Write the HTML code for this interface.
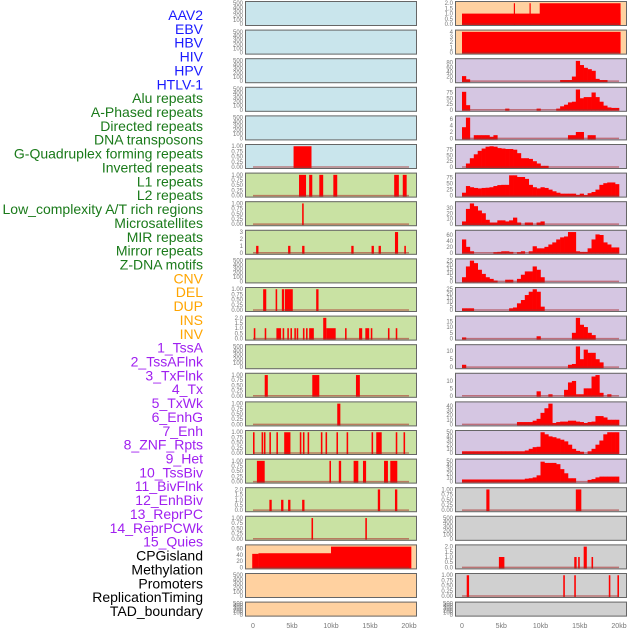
<!DOCTYPE html>
<html><head><meta charset="utf-8">
<style>
html,body{margin:0;padding:0;background:#fff;}
svg{display:block;font-family:"Liberation Sans",sans-serif;}
</style></head>
<body>
<svg id="chart" width="630" height="630" viewBox="0 0 630 630"></svg>
<script>
const labels = ["AAV2","EBV","HBV","HIV","HPV","HTLV-1","Alu repeats","A-Phased repeats","Directed repeats","DNA transposons","G-Quadruplex forming repeats","Inverted repeats","L1 repeats","L2 repeats","Low_complexity A/T rich regions","Microsatellites","MIR repeats","Mirror repeats","Z-DNA motifs","CNV","DEL","DUP","INS","INV","1_TssA","2_TssAFlnk","3_TxFlnk","4_Tx","5_TxWk","6_EnhG","7_Enh","8_ZNF_Rpts","9_Het","10_TssBiv","11_BivFlnk","12_EnhBiv","13_ReprPC","14_ReprPCWk","15_Quies","CPGisland","Methylation","Promoters","ReplicationTiming","TAD_boundary"];
const xTickLabels = ["0","5kb","10kb","15kb","20kb"];
const xTickValues = [0,5,10,15,20];

const L6 = [[5.2,7.5,1]];
const L7 = [[5.9,6.8,1],[7.2,7.6,1],[8.5,9.0,1],[10.3,10.8,1],[18.1,18.7,1],[19.2,19.7,1]];
const L8 = [[6.3,6.5,1]];
const L9 = [[0.4,0.7,1],[4.5,4.8,1],[6.3,6.6,1],[12.6,12.9,1],[15.2,15.5,1],[16.1,16.4,1],[18.2,18.6,3],[19.4,19.6,1]];
const L11 = [[1.3,1.7,1],[2.9,3.1,1],[3.7,4.0,1],[4.1,5.1,1],[8.1,8.4,1]];
const L12 = [[0.1,0.3,1],[1.5,1.7,1],[3.0,3.6,1],[3.8,4.0,1],[4.4,4.6,1],[4.8,5.0,1],[5.3,5.5,1],[5.6,5.8,1],[6.4,6.6,1],[6.8,7.0,1],[7.2,7.8,1],[9.0,9.4,2],[9.4,10.6,1],[11.8,12.0,1],[13.6,14.0,1],[14.4,14.9,1],[15.1,15.3,1],[17.3,17.5,1],[18.3,18.5,1]];
const L14 = [[1.5,1.9,1],[7.6,8.5,1],[13.2,13.7,1]];
const L15 = [[10.8,11.2,1]];
const L16 = [[0,0.2,1],[1.1,1.3,1],[1.4,1.6,1],[2.1,2.3,1],[3.0,3.2,1],[4.0,4.8,1],[6.0,6.2,1],[6.4,6.6,1],[7.0,7.2,1],[8.7,8.9,1],[9.3,9.5,1],[10.7,10.9,1],[12.0,12.2,1],[15.2,15.4,1],[15.8,16.5,1],[18.3,18.5,1],[19.3,19.5,1]];
const L17 = [[0.5,1.5,1],[9.8,10.0,1],[11.0,11.3,1],[12.9,13.5,1],[14.1,14.5,1],[16.8,17.3,1],[17.6,18.5,1]];
const L18 = [[2.1,2.4,1],[3.6,3.9,1],[4.5,4.8,1],[6.3,6.6,1],[16.0,16.3,2],[18.2,18.5,2]];
const L19 = [[7.5,7.7,1],[14.4,14.6,1]];
const L20 = [[-0.1,0.7,43],[0.7,10,45],[10,20.3,66]];

const R1 = [[0,20.2,1],[6.6,6.7,2],[8.6,8.7,2],[9.9,20.2,2]];
const R2 = [[0,20.2,4]];
const R18 = [[3.1,3.5,1],[14.5,15.2,1]];
const R20 = [[4.7,5.4,1],[14.3,14.6,1],[14.8,15.0,1],[15.5,15.9,2],[16.5,16.7,1]];
const R21 = [[0.6,0.9,1],[12.9,13.1,1],[14.3,14.5,1],[18.7,18.9,1],[19.8,20.0,1]];

const R3 = [22,8,0,0,0,0,0,0,0,0,0,0,0,0,0,0,0,0,0,0,0,0,0,0,0,5,5,5,20,88,70,58,52,45,10,5,5,0,0,0];
const R4 = [78,20,0,0,0,0,0,0,0,0,0,5,0,0,0,0,0,0,0,5,0,0,0,0,5,15,22,32,35,88,50,55,55,75,55,35,18,10,8,8];
const R5 = [3.5,6.5,0,1,1,1,1,0.5,1,0,0,0,0,0,0,0,0,0,0,0,0,0,0,0,0,0,0,1,1,2,2,0,1,1,0,0,0,0,0,0];
const R6 = [0,15,38,55,70,80,88,90,88,82,80,78,78,75,60,38,38,35,25,15,5,5,0,0,0,0,0,0,0,0,0,0,0,0,0,0,0,0,0,0];
const R7 = [12,40,35,32,30,32,33,35,40,44,45,45,85,85,78,78,70,45,35,30,35,32,25,18,12,8,8,8,8,3,8,2,10,15,25,45,52,55,55,48];
const R8 = [5,28,38,33,25,20,8,3,3,7,7,5,7,12,3,0,3,3,0,3,5,0,0,0,0,0,0,0,0,0,0,0,0,0,0,0,0,0,0,0];
const R9 = [45,20,5,0,0,0,0,0,2,3,5,5,3,0,2,5,0,5,22,15,15,20,28,35,45,52,55,70,70,5,3,3,15,45,62,60,35,28,18,18];
const R10 = [5,18,25,22,14,9,5,3,1,0,0,2,2,0,3,8,12,12,18,14,5,0,0,0,0,0,0,0,0,0,0,0,0,0,0,0,0,0,0,0];
const R11 = [2,2,2,0,0,0,0,0,0,0,0,0,2,3,8,12,18,22,25,22,4,0,0,0,0,0,0,0,0,0,0,0,0,0,0,0,0,0,0,0];
const R12 = [1,0,0,0,0,0,0,0,0,0,0,0,0,0,0,0,0,0,0,2,0,0,0,0,0,0,0,0,5,18,12,10,5,3,0,0,0,0,0,0];
const R13 = [1.5,0,0,0,0,0,0,0,0,0,0,0,0,0,0,0,0,0,0,0,0,0,0,0,0,0,0,1.5,2,13,5,11,9,9,5,3,0,0,0,0];
const R14 = [0,0,0,0,0,0,0,0,0,0,0,0,0,0,0,0,0,0,0,3,0,0,1,0,0,0,4,9,10,1,1,5,5,13,14,2,0,1,0,0];
const R15 = [0,0,0,0,0,0,0,0,0,0,0,0,0,0,5,5,5,5,8,12,25,35,45,3,5,6,6,8,8,6,5,3,5,6,18,18,15,10,10,10];
const R16 = [4,4,4,4,4,4,4,4,4,4,4,4,4,4,4,4,6,10,14,15,50,45,40,38,35,32,28,20,10,5,3,0,4,10,20,30,45,50,50,50];
const R17 = [5,5,5,5,5,5,5,5,5,5,5,5,5,5,5,5,7,8,10,15,48,45,45,45,42,30,20,8,8,0,0,0,4,6,10,12,12,12,12,12];

const T500 = ["0","100","200","300","400","500"];
const T1 = ["0.00","0.25","0.50","0.75","1.00"];
const T2 = ["0.0","0.5","1.0","1.5","2.0"];
const T3 = ["0","1","2","3"];
const T4 = ["0","1","2","3","4"];
const T60 = ["0","20","40","60"];
const T80 = ["0","20","40","60","80"];
const T75 = ["0","25","50","75"];
const T6 = ["0","2","4","6"];
const T30 = ["0","10","20","30"];
const T25 = ["0","5","10","15","20","25"];
const T15 = ["0","5","10","15"];
const T10 = ["0","5","10"];
const T40 = ["0","10","20","30","40"];
const T50 = ["0","10","20","30","40","50"];

const BLUE="#c9e5ec", GREEN="#c9e2a3", PEACH="#ffd1a0", LAV="#d5c6e2", GRAY="#d0d0d0";
const leftPanels = [
 [null,"e",T500,500,BLUE],[null,"e",T500,500,BLUE],[null,"e",T500,500,BLUE],[null,"e",T500,500,BLUE],[null,"e",T500,500,BLUE],
 [L6,"s",T1,1,BLUE],[L7,"s",T1,1,GREEN],[L8,"s",T1,1,GREEN],[L9,"s",T3,3,GREEN],[null,"e",T500,500,GREEN],
 [L11,"s",T1,1,GREEN],[L12,"s",T2,2,GREEN],[null,"e",T500,500,GREEN],[L14,"s",T1,1,GREEN],[L15,"s",T1,1,GREEN],
 [L16,"s",T1,1,GREEN],[L17,"s",T1,1,GREEN],[L18,"s",T2,2,GREEN],[L19,"s",T1,1,GREEN],[L20,"s",T60,66,PEACH],
 [null,"e",T500,500,PEACH],[null,"e",T500,500,PEACH]
];
const rightPanels = [
 [R1,"s",T2,2,PEACH],[R2,"s",T4,4,PEACH],[R3,"b",T80,90,LAV],[R4,"b",T75,90,LAV],[R5,"b",T6,6.5,LAV],
 [R6,"b",T75,90,LAV],[R7,"b",T75,87,LAV],[R8,"b",T30,38,LAV],[R9,"b",T60,70,LAV],[R10,"b",T25,25,LAV],
 [R11,"b",T25,25,LAV],[R12,"b",T15,18,LAV],[R13,"b",T10,13,LAV],[R14,"b",T10,14,LAV],[R15,"b",T40,45,LAV],
 [R16,"b",T50,50,LAV],[R17,"b",T50,50,LAV],[R18,"s",T1,1,GRAY],[null,"e",T500,500,GRAY],[R20,"s",T2,2,GRAY],
 [R21,"s",T1,1,GRAY],[null,"e",T500,500,GRAY]
];

const NS="http://www.w3.org/2000/svg";
const svg=document.getElementById('chart');
function mk(tag,attrs,parent){const e=document.createElementNS(NS,tag);for(const k in attrs)e.setAttribute(k,attrs[k]);(parent||svg).appendChild(e);return e;}

labels.forEach((t,i)=>{
  const col = i<6?"#1a1aff":(i<19?"#1a7a1a":(i<24?"#ffa500":(i<39?"#a020f0":"#000")));
  const e=mk('text',{x:203,y:15+i*13.86+5,'text-anchor':'end','font-size':14,fill:col});
  
  
  e.textContent=t;
});

const ROWH=28.6;
function drawCol(panels,x0,x1,z0,kbPx,colName){
  const xs=kb=>z0+kb*kbPx;
  panels.forEach((p,i)=>{
    const [data,type,ticks,max,bg]=p;
    const PH = i===panels.length-1 ? 15 : 25;
    const top=1+i*ROWH, bot=top+PH;
    const g=mk('g',{});
    
    
    mk('rect',{x:x0,y:top,width:x1-x0,height:PH,fill:bg},g);
    const ymin=-0.05*max, ymax=1.06*max;
    const ys=v=>bot-1-(v-ymin)/(ymax-ymin)*(PH-2);
    ticks.forEach((t,k)=>{
      const v=parseFloat(t);
      const tt=mk('text',{x:x0-2,y:ys(v)+2,'text-anchor':'end','font-size':6,fill:'#777'},g);
      
      
      tt.textContent=t;
    });
    if(data){
      if(type==="s"){
        data.forEach(d=>{
          const r=mk('rect',{x:xs(d[0]),y:ys(d[2]),width:Math.max(1.2,xs(d[1])-xs(d[0])),height:ys(0)-ys(d[2])+1,fill:'#ff0000'},g);
          
          
        });
      } else {
        data.forEach((v,k)=>{
          if(v<=0) return;
          const r=mk('rect',{x:xs(k*0.5),y:ys(v),width:xs(0.5)-xs(0)+0.3,height:ys(0)-ys(v)+1,fill:'#ff0000'},g);
          
          
        });
      }
      mk('line',{x1:xs(0),x2:xs(20),y1:ys(0),y2:ys(0),stroke:'rgba(170,40,40,0.55)','stroke-width':1.5},g);
    }
    mk('rect',{x:x0+0.5,y:top+0.5,width:x1-x0-1,height:PH-1,fill:'none',stroke:'#666','stroke-width':1},g);
  });
  xTickValues.forEach((v,k)=>{
    const t=mk('text',{x:xs(v),y:628,'text-anchor':'middle','font-size':7,fill:'#777'});
    
    
    t.textContent=xTickLabels[k];
  });
}
drawCol(leftPanels,245,417,253,7.8,'left');
drawCol(rightPanels,455,627,462,7.85,'right');
</script>
</body></html>
